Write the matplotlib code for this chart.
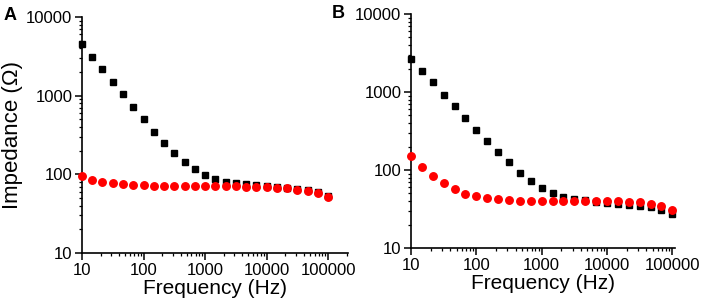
import matplotlib
matplotlib.use("Agg")
import matplotlib.pyplot as plt
from matplotlib.ticker import LogLocator, FixedLocator, NullFormatter

plt.rcParams["font.family"] = ["Liberation Sans", "DejaVu Sans"]

# frequency points: 6 per decade, 10 Hz .. 100 kHz
freq = [10, 14.7, 21.5, 31.6, 46.4, 68.1, 100, 147, 215, 316, 464, 681,
        1000, 1470, 2150, 3160, 4640, 6810, 10000, 14700, 21500, 31600,
        46400, 68100, 100000]

# panel A
a_black = [4590, 3110, 2170, 1500, 1040, 716, 500, 345, 250, 185, 143, 116,
           99, 88, 81, 77, 75, 73, 71.5, 70, 68, 66, 63.5, 59, 52.4]
a_red = [94, 85, 80, 77, 75, 73.5, 73, 72, 72, 71.5, 71.5, 71.5, 71, 71, 71,
         70.5, 70, 69.5, 69, 68, 66.5, 64, 61.5, 58, 52]

# panel B
b_black = [2680, 1880, 1345, 927, 657, 461, 327, 237, 171, 125, 92, 72,
           58.6, 50, 45.4, 42.4, 40.7, 39.2, 38, 36.9, 35.8, 34.8, 33.5,
           30.6, 27.2]
b_red = [149, 109, 84.4, 67.3, 56.4, 49.1, 45.8, 43.6, 42, 41.1, 40.3, 40.3,
         40.3, 39.9, 40.3, 40.3, 40.3, 39.9, 39.9, 39.5, 39.2, 38.4, 36.9,
         34.1, 30.4]

xticks = [10, 100, 1000, 10000, 100000]
yticks = [10, 100, 1000, 10000]

fig = plt.figure(figsize=(7.02, 3.07), dpi=100)
W, H = 702, 307
axA = fig.add_axes([82 / W, 1 - 253 / H, (348 - 82) / W, (253 - 17) / H])
axB = fig.add_axes([411 / W, 1 - 248 / H, (675 - 411) / W, (248 - 14) / H])


def style(ax, xmax):
    ax.set_xscale("log")
    ax.set_yscale("log")
    ax.set_xlim(10, xmax)
    ax.set_ylim(10, 10000)
    for s in ["top", "right"]:
        ax.spines[s].set_visible(False)
    for s in ["left", "bottom"]:
        ax.spines[s].set_linewidth(1.2)
    ax.xaxis.set_major_locator(FixedLocator(xticks))
    ax.yaxis.set_major_locator(FixedLocator(yticks))
    ax.set_xticklabels([str(v) for v in xticks])
    ax.set_yticklabels([str(v) for v in yticks])
    ax.xaxis.set_minor_locator(LogLocator(base=10, subs=range(2, 10), numticks=20))
    ax.yaxis.set_minor_locator(LogLocator(base=10, subs=range(2, 10), numticks=20))
    ax.xaxis.set_minor_formatter(NullFormatter())
    ax.yaxis.set_minor_formatter(NullFormatter())
    ax.tick_params(which="major", direction="out", length=5, width=1.1,
                   labelsize=12, pad=2)
    ax.tick_params(which="minor", direction="out", length=2.5, width=0.9)
    ax.set_xlabel("Frequency (Hz)", fontsize=15, labelpad=1)


for ax, blk, red, xmax in [(axA, a_black, a_red, 2.1e5), (axB, b_black, b_red, 1.1e5)]:
    style(ax, xmax)
    ax.plot(freq, blk, "s", color="black", markersize=4.6, clip_on=False, zorder=3)
    ax.plot(freq, red, "o", color="#ff0000", markersize=5.4, clip_on=False, zorder=4)

axA.set_ylabel("Impedance (\u03a9)", fontsize=16)
axA.yaxis.set_label_coords(-0.26, 0.5)
axA.yaxis.label.set_va("center")

fig.text(4 / W, 1 - 16 / H, "A", fontsize=13, fontweight="bold", va="center")
fig.text(332 / W, 1 - 14 / H, "B", fontsize=13, fontweight="bold", va="center")

fig.savefig("out.png", dpi=100)
